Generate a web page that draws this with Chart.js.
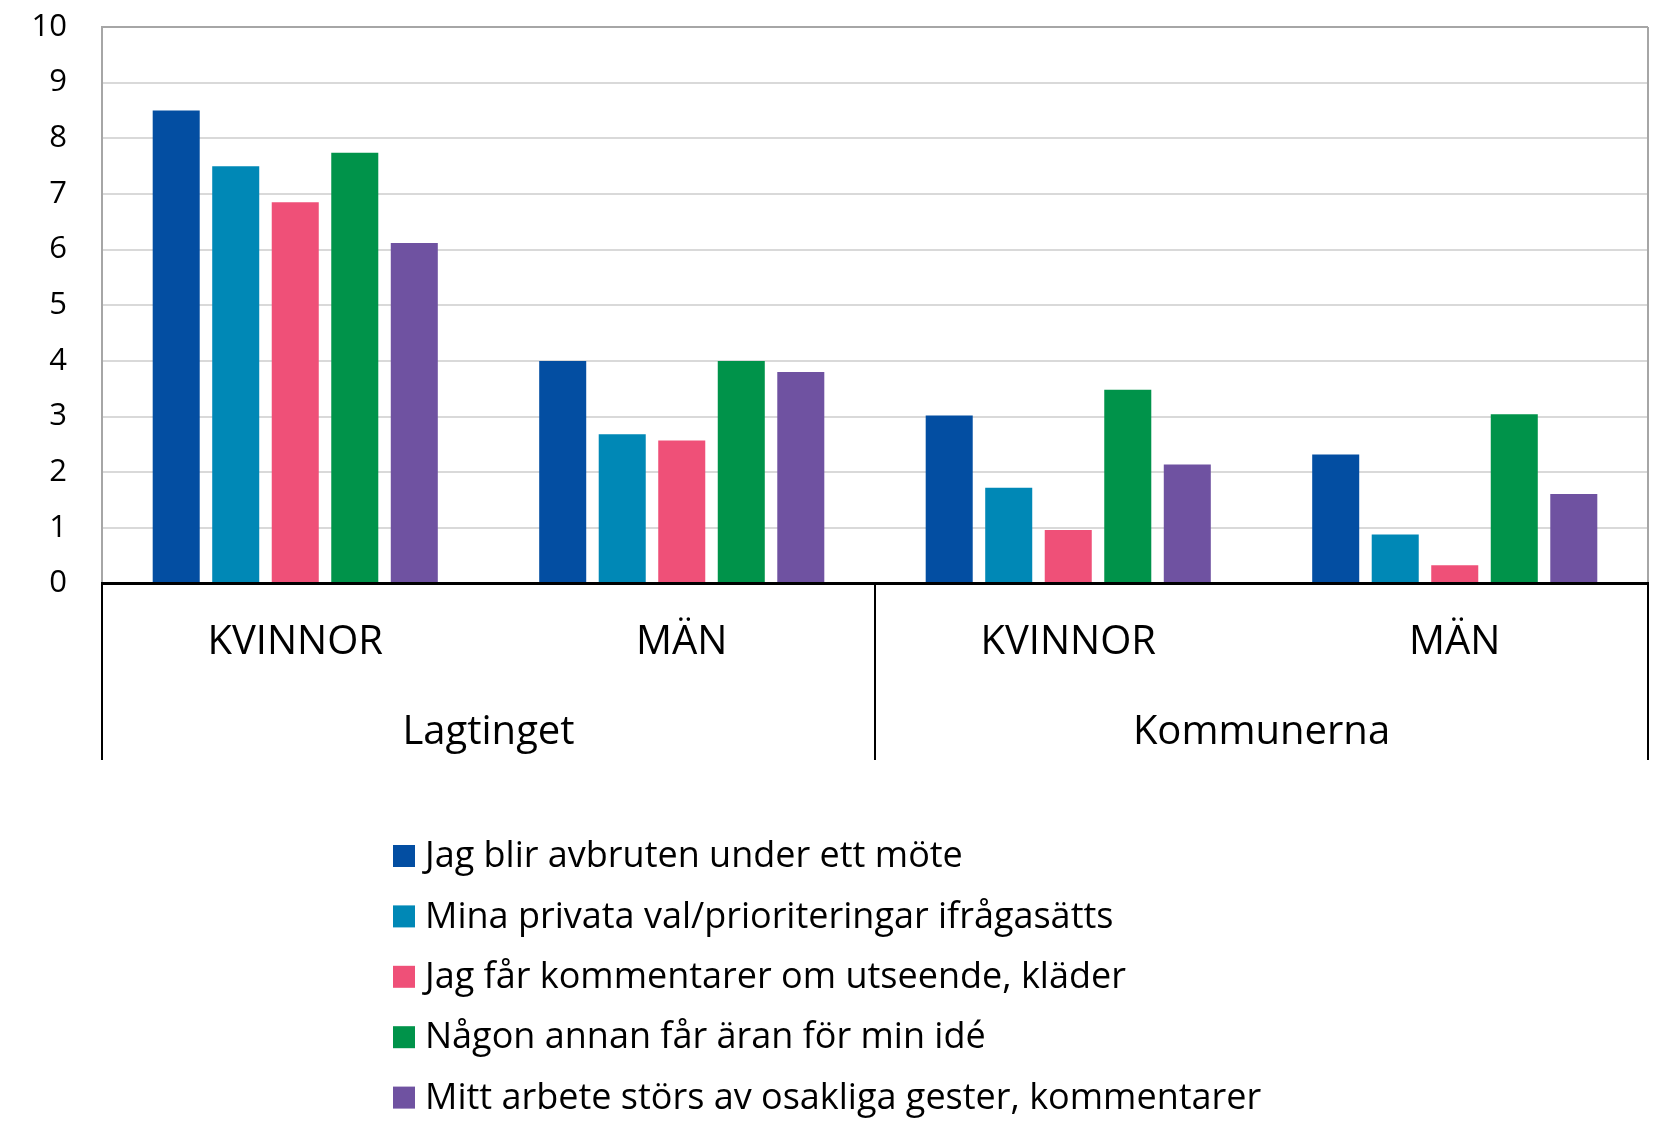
<!DOCTYPE html>
<html>
<head>
<meta charset="utf-8">
<script src="https://cdn.jsdelivr.net/npm/chart.js@4"></script>
<style>
    html, body { margin: 0; padding: 0; background: #fff; }
    #wrap { width: 1673px; height: 1139px; position: relative; }
</style>
</head>
<body>
<div id="wrap"><canvas id="barChart"></canvas></div>
<script>
// Categories (two levels)
const categories = ['KVINNOR', 'MÄN', 'KVINNOR', 'MÄN'];
const groups = ['Lagtinget', 'Kommunerna'];

// Series names
const seriesNames = [
    'Jag blir avbruten under ett möte',
    'Mina privata val/prioriteringar ifrågasätts',
    'Jag får kommentarer om utseende, kläder',
    'Någon annan får äran för min idé',
    'Mitt arbete störs av osakliga gester, kommentarer'
];

// Values
const avbruten = [8.5, 4.0, 3.02, 2.32];
const privataVal = [7.5, 2.68, 1.72, 0.88];
const utseende = [6.85, 2.57, 0.96, 0.33];
const aran = [7.74, 4.0, 3.48, 3.04];
const gester = [6.12, 3.8, 2.14, 1.61];

const seriesValues = [avbruten, privataVal, utseende, aran, gester];
const seriesColors = ['#034EA2', '#0088B6', '#EF5078', '#00934A', '#6F52A1'];

const FONT = '"Open Sans", sans-serif';

// Draws axis line, borders, two-level category labels and the legend
const decorPlugin = {
    id: 'decor',
    afterDatasetsDraw(chart) {
        const { ctx, chartArea: area, scales } = chart;
        const x = scales.x;
        ctx.save();

        // right border of the plot area
        ctx.strokeStyle = '#A6A6A6';
        ctx.lineWidth = 2;
        ctx.beginPath();
        ctx.moveTo(area.right, area.top);
        ctx.lineTo(area.right, area.bottom);
        ctx.stroke();

        // black category axis
        ctx.strokeStyle = '#000';
        ctx.lineWidth = 3;
        ctx.beginPath();
        ctx.moveTo(area.left - 1, area.bottom);
        ctx.lineTo(area.right + 1, area.bottom);
        ctx.stroke();

        // group separators
        const sepBottom = 760;
        const half = (area.right - area.left) / groups.length;
        ctx.lineWidth = 2;
        for (let i = 0; i <= groups.length; i++) {
            const sx = area.left + half * i;
            ctx.beginPath();
            ctx.moveTo(sx, area.bottom);
            ctx.lineTo(sx, sepBottom);
            ctx.stroke();
        }

        // category labels
        ctx.fillStyle = '#000';
        ctx.textAlign = 'center';
        ctx.textBaseline = 'middle';
        ctx.font = '40px ' + FONT;
        categories.forEach((c, i) => {
            ctx.fillText(c, x.getPixelForValue(i), 643);
        });
        groups.forEach((g, i) => {
            ctx.fillText(g, area.left + half * (i + 0.5), 733);
        });

        // legend
        ctx.textAlign = 'left';
        ctx.font = '36px ' + FONT;
        chart.data.datasets.forEach((ds, i) => {
            const cy = 856 + i * 60.4;
            ctx.fillStyle = ds.backgroundColor;
            ctx.fillRect(393, cy - 11, 22, 22);
            ctx.fillStyle = '#000';
            ctx.fillText(ds.label, 425, cy + 1);
        });

        ctx.restore();
    }
};

const ctxEl = document.getElementById('barChart');
new Chart(ctxEl, {
    type: 'bar',
    data: {
        labels: categories,
        datasets: seriesNames.map((name, i) => ({
            label: name,
            data: seriesValues[i],
            backgroundColor: seriesColors[i],
            categoryPercentage: 0.77,
            barPercentage: 0.79
        }))
    },
    options: {
        responsive: true,
        maintainAspectRatio: false,
        animation: false,
        layout: {
            padding: { top: 27, right: 25, bottom: 555.5, left: 0 }
        },
        plugins: {
            legend: { display: false },
            tooltip: { enabled: false }
        },
        scales: {
            x: { display: false },
            y: {
                min: 0,
                max: 10,
                ticks: {
                    stepSize: 1,
                    color: '#000',
                    padding: 35,
                    font: { family: FONT, size: 31 }
                },
                grid: {
                    drawTicks: false,
                    lineWidth: 2,
                    color: c => c.tick.value === 10 ? '#A6A6A6' : (c.tick.value === 0 ? 'rgba(0,0,0,0)' : '#D9D9D9')
                },
                border: { color: '#A6A6A6', width: 2 },
                afterFit: s => {
                    s.width = 102;
                    s.paddingTop = 0;
                    s.paddingBottom = 0;
                }
            }
        }
    },
    plugins: [decorPlugin]
});
</script>
</body>
</html>
